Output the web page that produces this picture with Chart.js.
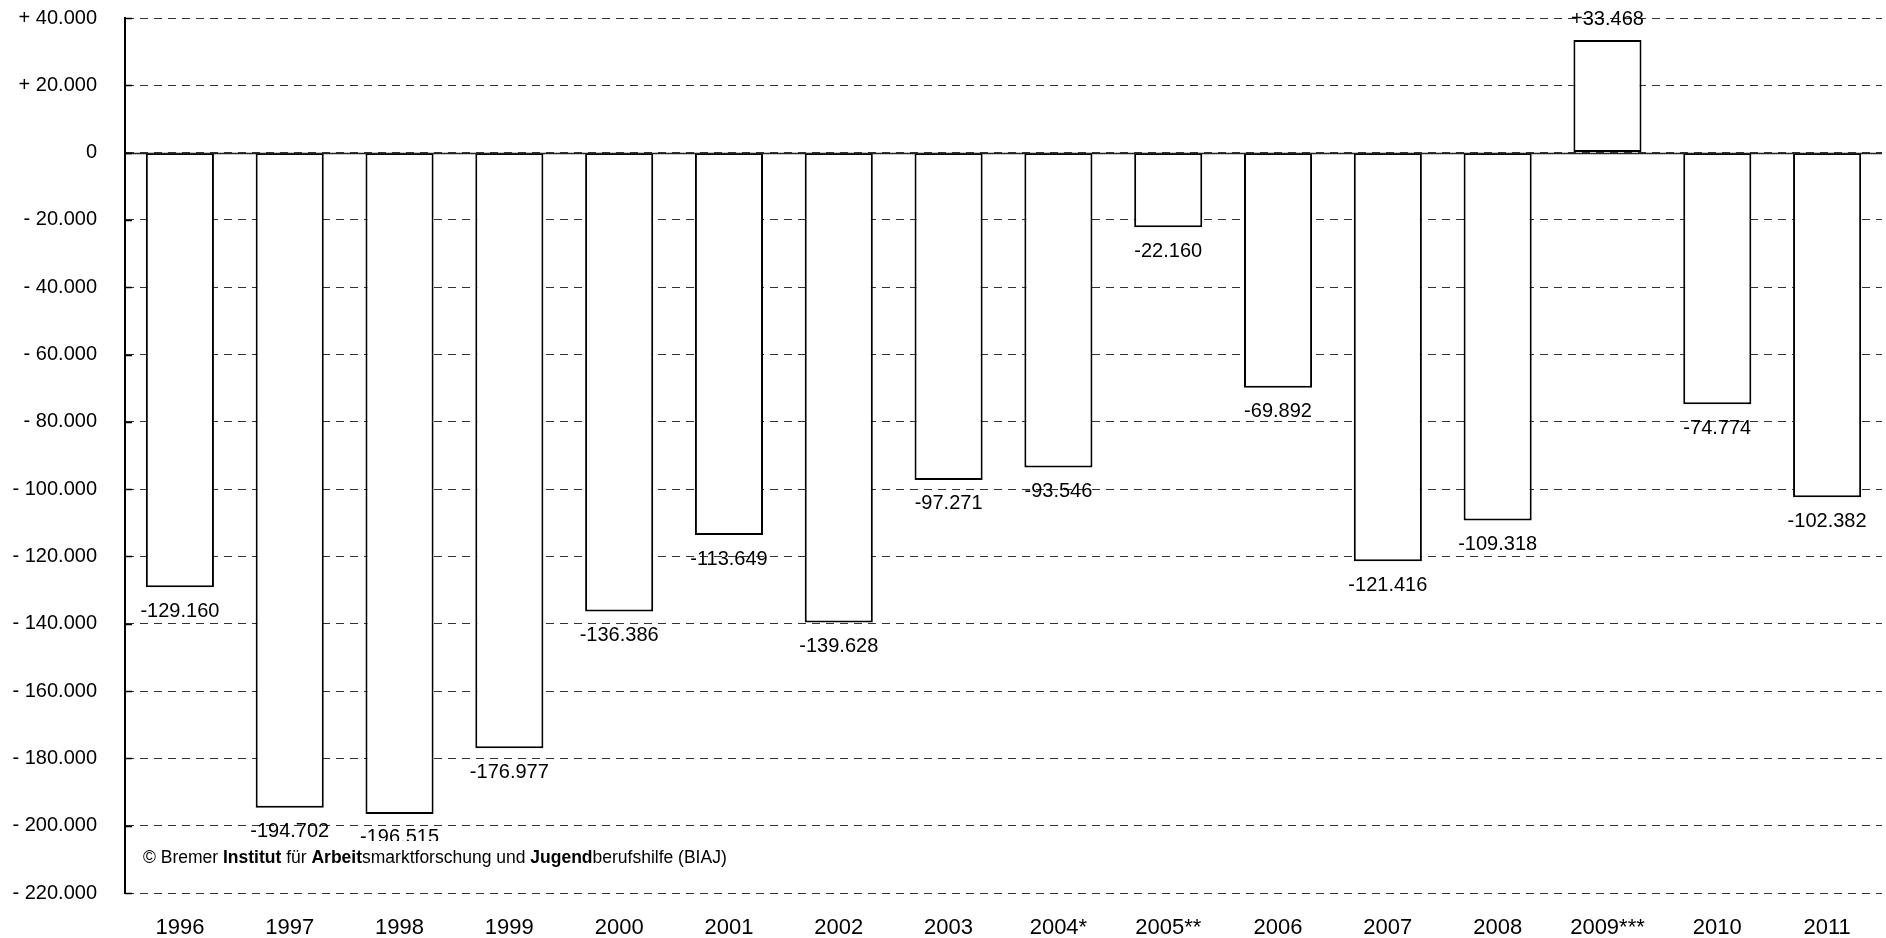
<!DOCTYPE html>
<html>
<head>
<meta charset="utf-8">
<script src="https://cdn.jsdelivr.net/npm/chart.js@4/dist/chart.umd.min.js"></script>
<style>
  html, body { margin: 0; padding: 0; background: #fff; }
  canvas { display: block; }
</style>
</head>
<body>
<canvas id="chart" width="1886" height="938"></canvas>
<script>
// years (with footnote marks as in the source)
const years = ['1996', '1997', '1998', '1999', '2000', '2001', '2002', '2003',
    '2004*', '2005**', '2006', '2007', '2008', '2009***', '2010', '2011'];

// change against previous year
const changes = [-129160, -194702, -196515, -176977, -136386, -113649, -139628, -97271,
    -93546, -22160, -69892, -121416, -109318, 33468, -74774, -102382];

const yMin = -220000;
const yMax = 40000;
const yStep = 20000;

const copyrightParts = [
    ['© Bremer ', false], ['Institut', true], [' für ', false], ['Arbeit', true],
    ['smarktforschung und ', false], ['Jugend', true], ['berufshilfe (BIAJ)', false]
];

const FONT = '"Liberation Sans", Arial, sans-serif';

function groupDigits(n) {
    return Math.abs(n).toString().replace(/\B(?=(\d{3})+(?!\d))/g, '.');
}

function barLabel(v) {
    return (v < 0 ? '-' : '+') + groupDigits(v);
}

function tickLabel(v) {
    if (v === 0) return '0';
    return (v < 0 ? '- ' : '+ ') + groupDigits(v);
}

const extrasPlugin = {
    id: 'extras',
    afterDatasetsDraw(chart) {
        const ctx = chart.ctx;
        const area = chart.chartArea;
        const yScale = chart.scales.y;

        // solid zero line
        const y0 = Math.round(yScale.getPixelForValue(0)) + 0.5;
        ctx.save();
        ctx.strokeStyle = '#222';
        ctx.lineWidth = 1.5;
        ctx.beginPath();
        ctx.moveTo(area.left, y0);
        ctx.lineTo(area.right, y0);
        ctx.stroke();

        // short tick marks on the inside of the axis
        ctx.strokeStyle = '#000';
        ctx.lineWidth = 1.5;
        yScale.ticks.forEach(t => {
            const y = Math.round(yScale.getPixelForValue(t.value)) + 0.5;
            ctx.beginPath();
            ctx.moveTo(area.left, y);
            ctx.lineTo(area.left + 7, y);
            ctx.stroke();
        });

        // value labels
        ctx.fillStyle = '#000';
        ctx.font = '20px ' + FONT;
        ctx.textAlign = 'center';
        ctx.textBaseline = 'middle';
        const meta = chart.getDatasetMeta(0);
        meta.data.forEach((bar, i) => {
            const v = changes[i];
            const y = v < 0 ? bar.y + 24 : bar.y - 20;
            ctx.fillText(barLabel(v), bar.x, y);
        });

        // copyright note with white box (it hides the lower part of the 1998 label)
        let x = 143;
        const ty = 858;
        let total = 0;
        copyrightParts.forEach(p => {
            ctx.font = (p[1] ? 'bold ' : '') + '17.5px ' + FONT;
            total += ctx.measureText(p[0]).width;
        });
        ctx.fillStyle = '#fff';
        ctx.fillRect(x - 6, ty - 17, total + 12, 32);
        ctx.fillStyle = '#000';
        ctx.textAlign = 'left';
        copyrightParts.forEach(p => {
            ctx.font = (p[1] ? 'bold ' : '') + '17.5px ' + FONT;
            ctx.fillText(p[0], x, ty);
            x += ctx.measureText(p[0]).width;
        });
        ctx.restore();
    }
};

const ctx = document.getElementById('chart').getContext('2d');
new Chart(ctx, {
    type: 'bar',
    data: {
        labels: years,
        datasets: [{
            data: changes,
            backgroundColor: '#fff',
            borderColor: '#000',
            borderWidth: 2,
            borderSkipped: false,
            barPercentage: 0.62,
            categoryPercentage: 1
        }]
    },
    options: {
        responsive: false,
        animation: false,
        layout: { padding: { top: 18, right: 4, bottom: 0, left: 0 } },
        plugins: {
            legend: { display: false },
            tooltip: { enabled: false }
        },
        scales: {
            x: {
                grid: { display: false, drawTicks: false },
                border: { display: false },
                ticks: {
                    color: '#000',
                    padding: 22,
                    maxRotation: 0,
                    font: { family: FONT, size: 22 }
                },
                afterFit: s => { s.height = 45; s.paddingLeft = 0; s.paddingRight = 0; }
            },
            y: {
                min: yMin,
                max: yMax,
                grid: { color: '#333', lineWidth: 1, drawTicks: false },
                border: { display: true, color: '#000', width: 2, dash: [8, 6] },
                ticks: {
                    stepSize: yStep,
                    color: '#000',
                    padding: 28,
                    font: { family: FONT, size: 20 },
                    callback: v => tickLabel(v)
                },
                afterFit: s => { s.width = 125; s.paddingTop = 0; s.paddingBottom = 0; }
            }
        }
    },
    plugins: [extrasPlugin]
});
</script>
</body>
</html>
